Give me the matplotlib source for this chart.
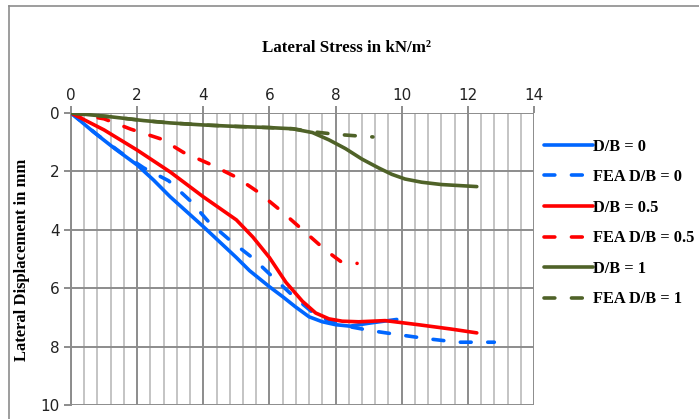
import matplotlib.pyplot as plt
from matplotlib.lines import Line2D
from matplotlib.ticker import MultipleLocator

# lateral stress (kN/m2) vs lateral displacement (mm)
db0_x = [0, 0.67, 1.3, 2.0, 2.5, 3.0, 3.5, 4.0, 4.5, 5.0, 5.4, 6.0, 6.4, 6.8, 7.2, 7.6, 8.0, 8.44, 9.0, 9.85]
db0_y = [0, 0.64, 1.2, 1.78, 2.3, 2.87, 3.38, 3.89, 4.42, 4.95, 5.4, 5.95, 6.29, 6.65, 6.98, 7.15, 7.25, 7.3, 7.2, 7.07]

fea0_x = [0, 0.8, 1.5, 2.2, 2.95, 3.6, 4.18, 4.83, 5.5, 6.15, 6.75, 7.4, 8.1, 9.1, 9.95, 10.85, 11.7, 12.8]
fea0_y = [0, 0.75, 1.35, 1.88, 2.32, 3.0, 3.75, 4.38, 4.97, 5.67, 6.3, 6.92, 7.25, 7.46, 7.6, 7.74, 7.85, 7.85]

db05_x = [0, 1.0, 2.0, 3.0, 4.0, 5.0, 5.5, 6.0, 6.5, 7.0, 7.4, 7.8, 8.2, 8.7, 9.5, 10.5, 11.5, 12.27]
db05_y = [0, 0.58, 1.27, 2.02, 2.87, 3.66, 4.25, 4.95, 5.8, 6.45, 6.85, 7.05, 7.13, 7.15, 7.11, 7.25, 7.4, 7.53]

fea05_x = [0, 1.0, 1.8, 2.75, 3.4, 4.2, 5.0, 5.65, 6.35, 7.0, 7.7, 8.15, 8.65]
fea05_y = [0, 0.2, 0.55, 0.9, 1.35, 1.75, 2.2, 2.7, 3.35, 4.0, 4.7, 5.08, 5.15]

db1_x = [0, 1.2, 2.2, 3.0, 4.0, 5.0, 6.0, 6.7, 7.3, 7.8, 8.3, 8.8, 9.3, 9.7, 10.1, 10.6, 11.2, 12.27]
db1_y = [0, 0.13, 0.26, 0.34, 0.41, 0.46, 0.5, 0.54, 0.67, 0.92, 1.22, 1.58, 1.88, 2.1, 2.26, 2.37, 2.45, 2.52]

fea1_x = [0, 1.2, 2.2, 3.0, 4.0, 5.0, 6.0, 6.7, 7.3, 8.0, 8.6, 9.13]
fea1_y = [0, 0.13, 0.26, 0.34, 0.41, 0.46, 0.5, 0.54, 0.64, 0.73, 0.78, 0.82]

blue = '#0066FF'
red = '#FF0000'
green = '#4F6228'

plt.rcParams['font.family'] = ['Liberation Sans Narrow', 'DejaVu Sans']

fig = plt.figure(figsize=(6.99, 4.19), dpi=100)
ax = fig.add_axes([71 / 699, 14 / 419, 463 / 699, 292 / 419])

lw = 2.6
dash = (3.0, 4.6)
series = [
    (db0_x, db0_y, blue, '-', 'D/B = 0'),
    (fea0_x, fea0_y, blue, '--', 'FEA D/B = 0'),
    (db05_x, db05_y, red, '-', 'D/B = 0.5'),
    (fea05_x, fea05_y, red, '--', 'FEA D/B = 0.5'),
    (db1_x, db1_y, green, '-', 'D/B = 1'),
    (fea1_x, fea1_y, green, '--', 'FEA D/B = 1'),
]
for xs, ys, c, ls, lab in series:
    if ls == '--':
        ax.plot(xs, ys, color=c, lw=lw, dashes=dash, dash_capstyle='round',
                solid_capstyle='round', label=lab, zorder=3)
    else:
        ax.plot(xs, ys, color=c, lw=lw, solid_capstyle='round',
                solid_joinstyle='round', label=lab, zorder=3)

ax.set_xlim(0, 14)
ax.set_ylim(10, 0)
ax.xaxis.tick_top()
ax.xaxis.set_major_locator(MultipleLocator(2))
ax.xaxis.set_minor_locator(MultipleLocator(0.4))
ax.yaxis.set_major_locator(MultipleLocator(2))
ax.grid(which='major', color='#8c8c8c', lw=1.4)
ax.grid(which='minor', axis='x', color='#c4c4c4', lw=1.4)
ax.set_axisbelow(True)
for s in ax.spines.values():
    s.set_visible(False)
ax.spines['left'].set_visible(True)
ax.spines['left'].set_color('#8c8c8c')
ax.spines['left'].set_linewidth(1.4)
ax.tick_params(which='major', length=5, width=1.4, color='#8c8c8c',
               labelsize=11, labelcolor='#222222', pad=3)
ax.tick_params(which='minor', length=0)
ax.tick_params(axis='x', pad=2)

serif = {'family': ['Liberation Serif', 'DejaVu Serif'], 'weight': 'bold'}
fig.text(347 / 699, 1 - 48 / 419, 'Lateral Stress in kN/m²', ha='center', va='center',
         fontsize=12.2, **serif)
fig.text(22 / 699, 1 - 260 / 419, 'Lateral Displacement in mm', ha='center', va='center',
         rotation=90, fontsize=12, **serif)

leg = fig.legend(loc='upper left', bbox_to_anchor=(537 / 699, 1 - 132 / 419),
                 frameon=False, prop={'family': ['Liberation Serif'], 'weight': 'bold', 'size': 11.8},
                 handlelength=3.0, handletextpad=0.0, labelspacing=0.89, borderaxespad=0)

# outer chart frame
fig.add_artist(Line2D([9 / 699, 9 / 699], [0, 1 - 6 / 419], transform=fig.transFigure,
                      color='#8c8c8c', lw=1.2))
fig.add_artist(Line2D([9 / 699, 1], [1 - 6 / 419, 1 - 6 / 419], transform=fig.transFigure,
                      color='#8c8c8c', lw=1.2))

fig.savefig('out.png', dpi=100)
